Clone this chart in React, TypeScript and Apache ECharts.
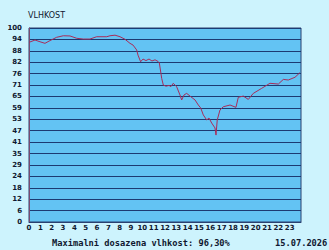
import React, { useEffect, useRef } from "react";
import * as echarts from "echarts";

const title = "VLHKOST";
const footerText = "Maximalni dosazena vlhkost: 96,30%";
const dateText = "15.07.2026";

const hours = [
  0.0, 0.53, 0.97, 1.41, 1.85, 2.44, 3.03, 3.62, 4.21, 4.79, 5.38, 5.97, 6.86, 7.15, 7.59,
  8.03, 8.47, 8.91, 9.18, 9.5, 9.62, 9.85, 10.06, 10.32, 10.59, 10.85, 11.12, 11.38, 11.5,
  11.71, 11.85, 12.09, 12.35, 12.53, 12.73, 13.03, 13.32, 13.47, 13.68, 13.91, 14.21, 14.65,
  14.94, 15.15, 15.38, 15.68, 15.88, 16.12, 16.41, 16.5, 16.61, 16.85, 17.14, 17.74, 18.26,
  18.47, 18.91, 19.35, 19.79, 20.53, 21.26, 22.0, 22.44, 22.88, 23.47, 23.91,
];
const humidity = [
  92.6, 93.8, 92.9, 92.1, 93.5, 95.2, 96.0, 95.9, 94.7, 94.3, 94.3, 95.5, 95.5, 96.0, 96.3,
  95.5, 94.2, 92.1, 91.2, 88.7, 86.0, 82.6, 84.0, 83.2, 84.0, 83.0, 83.6, 82.8, 82.0,
  74.0, 70.6, 70.0, 70.4, 69.8, 71.5, 69.7, 65.5, 62.9, 65.5, 66.3, 64.9, 62.9,
  60.3, 58.8, 55.2, 52.6, 53.6, 51.0, 48.5, 44.8, 52.6, 57.7, 59.4, 60.3, 59.1,
  64.3, 64.9, 63.2, 66.3, 68.9, 71.5, 71.1, 73.5, 73.2, 74.6, 77.0,
];

export default function App() {
  const ref = useRef<HTMLDivElement>(null);
  useEffect(() => {
    if (!ref.current) return;
    const chart = echarts.init(ref.current, null, { renderer: "svg" });
    const data = hours.map((h, i) => [h, humidity[i]]);
    chart.setOption({
      animation: false,
      backgroundColor: "#cdf3fd",
      grid: {
        left: 29,
        right: 28,
        top: 28,
        bottom: 28,
        show: true,
        backgroundColor: "#63c3f3",
        borderColor: "#2a4070",
        borderWidth: 1,
      },
      xAxis: {
        type: "value",
        min: 0,
        max: 24,
        interval: 1,
        axisLine: { show: true, lineStyle: { color: "#2a4070" } },
        axisTick: { show: false },
        splitLine: { show: false },
        axisLabel: {
          margin: 2,
          fontSize: 7,
          fontWeight: "bold",
          fontFamily: "DejaVu Sans",
          color: "#101830",
          formatter: (v: number) => (v < 24 ? String(v) : ""),
        },
      },
      yAxis: {
        type: "value",
        min: 0,
        max: 100,
        interval: 100 / 17,
        axisLine: { show: true, lineStyle: { color: "#7a4a70" } },
        axisTick: { show: false },
        splitLine: { show: true, lineStyle: { color: "#1c3a72", width: 1 } },
        axisLabel: {
          margin: 7,
          fontSize: 7,
          fontWeight: "bold",
          fontFamily: "DejaVu Sans",
          color: "#101830",
          formatter: (v: number) => String(Math.round(v)),
        },
      },
      series: [
        {
          type: "line",
          data,
          showSymbol: false,
          lineStyle: { color: "#a82c5a", width: 1 },
        },
      ],
      graphic: [
        {
          type: "text",
          left: 28,
          top: 11,
          style: { text: title, fontSize: 8, fontFamily: "DejaVu Sans", fill: "#101830" },
        },
        {
          type: "text",
          left: 52,
          top: 238,
          style: {
            text: footerText,
            fontSize: 8.7,
            fontWeight: "bold",
            fontFamily: "DejaVu Sans Mono",
            fill: "#101830",
          },
        },
        {
          type: "text",
          left: 275,
          top: 238,
          style: {
            text: dateText,
            fontSize: 8.7,
            fontWeight: "bold",
            fontFamily: "DejaVu Sans Mono",
            fill: "#101830",
          },
        },
      ],
    });
    return () => chart.dispose();
  }, []);
  return (
    <div
      ref={ref}
      style={{ position: "fixed", left: 0, top: 0, width: 329, height: 250 }}
    />
  );
}
